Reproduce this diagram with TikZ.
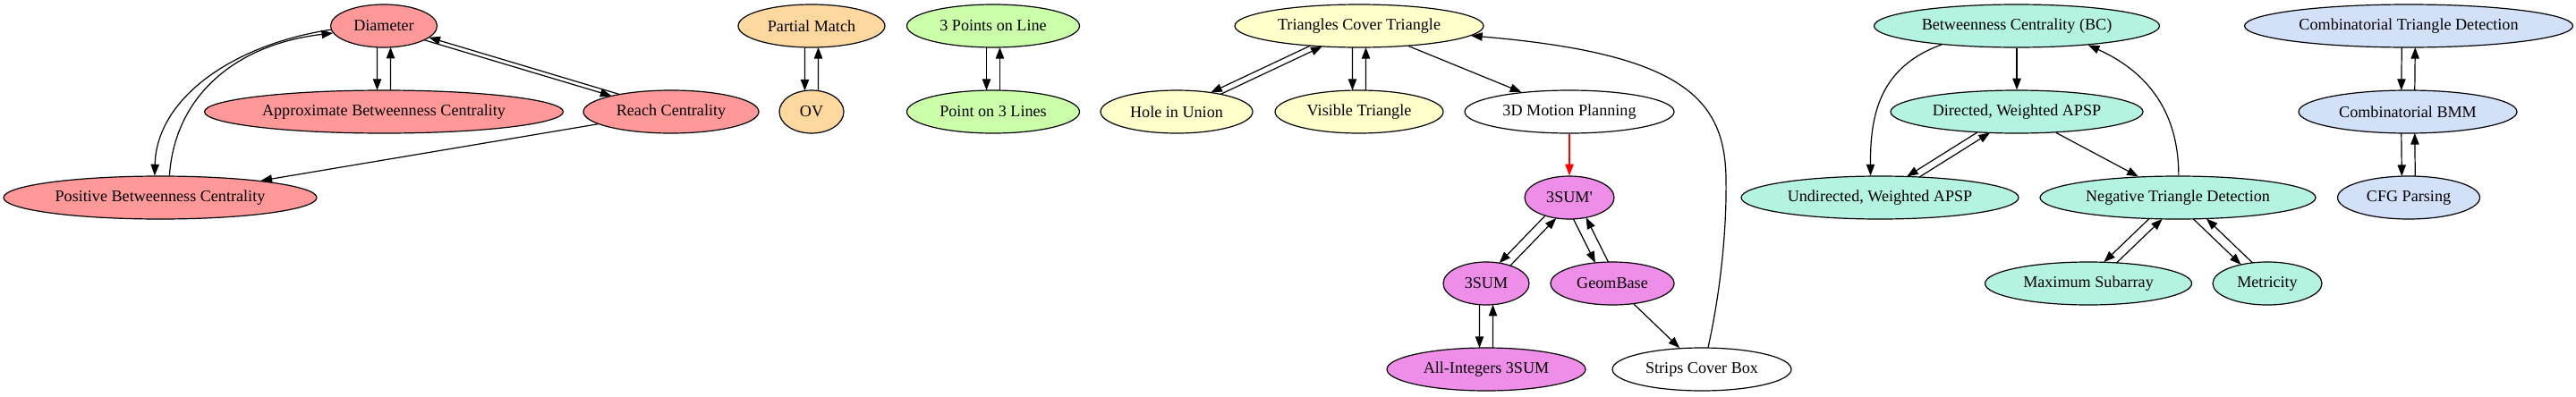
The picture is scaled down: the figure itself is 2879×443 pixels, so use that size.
\documentclass[tikz,border=0pt]{standalone}
\usepackage{fontspec}
\setmainfont{Liberation Serif}
\usetikzlibrary{shapes.geometric,arrows.meta,calc,intersections}
\definecolor{cred}{HTML}{FF9999}
\definecolor{corange}{HTML}{FFD8A0}
\definecolor{cgreen}{HTML}{CCFFAA}
\definecolor{cyellow}{HTML}{FFFFCC}
\definecolor{cviolet}{HTML}{EE8EE8}
\definecolor{cteal}{HTML}{B4F2E2}
\definecolor{cblue}{HTML}{D2E0F8}
\newcommand\twoway[2]{%
  \path[name path=downl] ($(#1)+(-7.5,0)$) -- ($(#2)+(-7.5,0)$);
  \path[name path=upl] ($(#1)+(7.5,0)$) -- ($(#2)+(7.5,0)$);
  \path[name intersections={of=#1 and downl,by=da}];
  \path[name intersections={of=#2 and downl,by=db}];
  \path[name intersections={of=#1 and upl,by=ua}];
  \path[name intersections={of=#2 and upl,by=ub}];
  \draw[conn] (da) -- (db);
  \draw[conn] (ub) -- (ua);
}
\begin{document}
\begin{tikzpicture}[x=0.75pt,y=-0.75pt,
  nd/.style={ellipse,draw,line width=0.9pt,inner sep=0pt,minimum height=36pt,font=\fontsize{13.6}{16}\selectfont},
  wd/.style={minimum width=#1*0.75pt},
  conn/.style={line width=0.9pt,-{Triangle[length=9.5pt,width=7pt]}}]
\useasboundingbox (0,0) rectangle (2879,443);
\node[nd,wd=119,fill=cred,name path=D] (D) at (429,29) {Diameter};
\node[nd,wd=401,fill=cred,name path=ABC] (ABC) at (429,125) {Approximate Betweenness Centrality};
\node[nd,wd=196,fill=cred,name path=RC] (RC) at (750,125) {Reach Centrality};
\node[nd,wd=350,fill=cred,name path=PBC] (PBC) at (179,221) {Positive Betweenness Centrality};
\node[nd,wd=164,fill=corange,name path=PM] (PM) at (907,29) {Partial Match};
\node[nd,wd=72,fill=corange,name path=OV] (OV) at (907,125) {OV};
\node[nd,wd=193,fill=cgreen,name path=TPL] (TPL) at (1110,29) {3 Points on Line};
\node[nd,wd=193,fill=cgreen,name path=PTL] (PTL) at (1110,125) {Point on 3 Lines};
\node[nd,wd=278,fill=cyellow,name path=TCT] (TCT) at (1519,29) {Triangles Cover Triangle};
\node[nd,wd=170,fill=cyellow,name path=HU] (HU) at (1315,125) {Hole in Union};
\node[nd,wd=188,fill=cyellow,name path=VT] (VT) at (1519,125) {Visible Triangle};
\node[nd,wd=234,fill=white,name path=MP] (MP) at (1754,125) {3D Motion Planning};
\node[nd,wd=100,fill=cviolet,name path=SP] (SP) at (1754,221) {3SUM\textquotesingle};
\node[nd,wd=96,fill=cviolet,name path=S] (S) at (1661,317) {3SUM};
\node[nd,wd=138,fill=cviolet,name path=GB] (GB) at (1802,317) {GeomBase};
\node[nd,wd=222,fill=cviolet,name path=AI] (AI) at (1661,413) {All-Integers 3SUM};
\node[nd,wd=200,fill=white,name path=SCB] (SCB) at (1902,413) {Strips Cover Box};
\node[nd,wd=319,fill=cteal,name path=BC] (BC) at (2254,29) {Betweenness Centrality (BC)};
\node[nd,wd=282,fill=cteal,name path=DW] (DW) at (2254,125) {Directed, Weighted APSP};
\node[nd,wd=310,fill=cteal,name path=UW] (UW) at (2101,221) {Undirected, Weighted APSP};
\node[nd,wd=308,fill=cteal,name path=NT] (NT) at (2434,221) {Negative Triangle Detection};
\node[nd,wd=231,fill=cteal,name path=MS] (MS) at (2334,317) {Maximum Subarray};
\node[nd,wd=122,fill=cteal,name path=MT] (MT) at (2534,317) {Metricity};
\node[nd,wd=367,fill=cblue,name path=CT] (CT) at (2692,29) {Combinatorial Triangle Detection};
\node[nd,wd=244,fill=cblue,name path=CB] (CB) at (2691,125) {Combinatorial BMM};
\node[nd,wd=159,fill=cblue,name path=CF] (CF) at (2692,221) {CFG Parsing};
\twoway{D}{ABC}
\twoway{D}{RC}
\twoway{PM}{OV}
\twoway{TPL}{PTL}
\twoway{TCT}{HU}
\twoway{TCT}{VT}
\twoway{SP}{S}
\twoway{SP}{GB}
\twoway{S}{AI}
\twoway{DW}{UW}
\twoway{NT}{MS}
\twoway{NT}{MT}
\twoway{CT}{CB}
\twoway{CB}{CF}
\draw[conn] (TCT) -- (MP);
\draw[conn] (RC) -- (PBC);
\draw[conn] (DW) -- (NT);
\draw[conn] (GB) -- (SCB);
\draw[conn] (BC) -- (DW);
\draw[conn,red] (MP) -- (SP);
\draw[conn] (D.184) .. controls (260,50) and (175,110) .. (PBC.104);
\draw[conn] (PBC.67) .. controls (195,110) and (260,50) .. (D.188);
\draw[conn] (SCB.74) .. controls (1922,330) and (1930,260) .. (1929,200) .. controls (1928,110) and (1880,60) .. (TCT.-5);
\draw[conn] (BC.194) .. controls (2100,75) and (2090,130) .. (UW.113);
\draw[conn] (NT.88) .. controls (2435,120) and (2395,78) .. (BC.-15);
\end{tikzpicture}
\end{document}
